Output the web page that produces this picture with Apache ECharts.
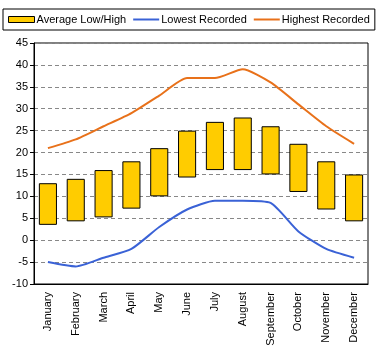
<!DOCTYPE html>
<html>
<head>
<meta charset="utf-8">
<script src="https://cdn.jsdelivr.net/npm/echarts@6/dist/echarts.min.js"></script>
<style>
  html, body { margin: 0; padding: 0; background: #fff; }
  #chart { width: 380px; height: 350px; }
</style>
</head>
<body>
<div id="chart"></div>
<script>
// monthly temperatures
var months = ["January", "February", "March", "April", "May", "June",
  "July", "August", "September", "October", "November", "December"];
var avgLow = [3.5, 4.3, 5.2, 7.2, 10, 14.3, 16, 16, 15, 11, 7, 4.3];
var avgHigh = [13, 14, 16, 18, 21, 25, 27, 28, 26, 22, 18, 15];
var lowest = [-5, -6, -4, -2, 3, 7, 9, 9, 8.5, 2, -2, -4];
var highest = [21, 23, 26, 29, 33, 37, 37, 39, 36, 31, 26, 22];

var font = "Liberation Sans, Arial, sans-serif";

// floating bar = invisible base + visible span
var span = avgHigh.map(function (h, i) { return h - avgLow[i]; });

var chart = echarts.init(document.getElementById("chart"));
chart.setOption({
  animation: false,
  textStyle: { fontFamily: font },
  legend: {
    data: [
      { name: "Average Low/High", icon: "rect", itemStyle: { color: "#FFCC00", borderColor: "#000", borderWidth: 1 } },
      { name: "Lowest Recorded", itemStyle: { opacity: 0 } },
      { name: "Highest Recorded", itemStyle: { opacity: 0 } }
    ],
    left: 3,
    top: 9,
    width: 375,
    padding: [5, 5, 5, 5],
    itemGap: 6,
    itemWidth: 26,
    itemHeight: 6,
    borderColor: "#000",
    borderWidth: 1,
    textStyle: { fontFamily: font, fontSize: 11, color: "#000", padding: [0, 0, 0, -3] }
  },
  grid: {
    left: 34,
    right: 12,
    top: 43,
    bottom: 66,
    show: true,
    borderColor: "#000",
    borderWidth: 1
  },
  xAxis: {
    type: "category",
    data: months,
    axisLine: { onZero: false, lineStyle: { color: "#000" } },
    axisTick: { length: 4, lineStyle: { color: "#000" } },
    axisLabel: { rotate: 90, color: "#000", fontSize: 11, fontFamily: font, margin: 8 }
  },
  yAxis: {
    type: "value",
    min: -10,
    max: 45,
    interval: 5,
    axisLine: { show: true, lineStyle: { color: "#000" } },
    axisTick: { show: true, length: 4, lineStyle: { color: "#000" } },
    axisLabel: { color: "#000", fontSize: 11, fontFamily: font, margin: 6 },
    splitLine: { lineStyle: { color: "#888", type: [4, 3] } }
  },
  series: [
    {
      name: "base",
      type: "bar",
      stack: "avg",
      data: avgLow,
      barWidth: "65%",
      itemStyle: { color: "transparent" },
      silent: true
    },
    {
      name: "Average Low/High",
      type: "bar",
      stack: "avg",
      data: span,
      barWidth: "65%",
      itemStyle: { color: "#FFCC00", borderColor: "#000", borderWidth: 1 }
    },
    {
      name: "Lowest Recorded",
      type: "line",
      data: lowest,
      smooth: 0.2,
      symbol: "none",
      lineStyle: { color: "#3A62D6", width: 2 },
      itemStyle: { color: "#3A62D6" }
    },
    {
      name: "Highest Recorded",
      type: "line",
      data: highest,
      smooth: 0.2,
      symbol: "none",
      lineStyle: { color: "#E8711A", width: 2 },
      itemStyle: { color: "#E8711A" }
    }
  ]
});
</script>
</body>
</html>
